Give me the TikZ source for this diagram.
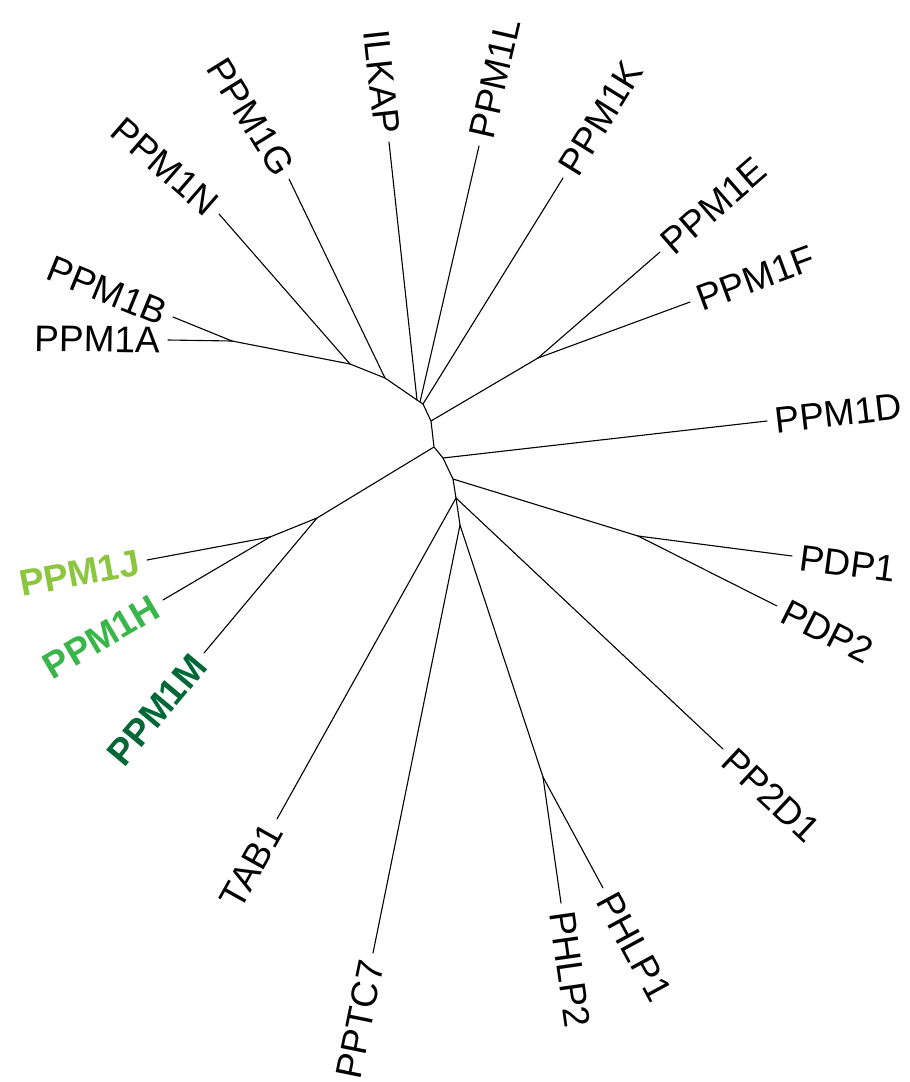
\documentclass[tikz,border=0pt]{standalone}
\usepackage{fontspec}
\setmainfont{Liberation Sans}
\usetikzlibrary{calc}
\definecolor{gJ}{RGB}{140,198,63}
\definecolor{gH}{RGB}{57,181,74}
\definecolor{gM}{RGB}{0,104,55}
\tikzset{
  branch/.style={draw=black, line width=1.1pt, line cap=round, line join=round},
  lab/.style={font=\fontsize{37}{42}\selectfont, inner sep=0pt, text height=26.5pt, text depth=0pt},
  labR/.style={rotate=#1, anchor=west},
  labL/.style={rotate=#1-180, anchor=east},
  hl/.style={text=#1, font=\fontsize{37}{42}\selectfont\bfseries},
}
% #1 parent, #2 name, #3 tip coordinate, #4 text, #5 side R/L, #6 extra style
\newcommand{\leafnode}[6]{%
  \coordinate (#2) at #3;
  \draw[branch] (#1) -- (#2);
  \path let \p1=($(#2)-(#1)$), \n1={atan2(\y1,\x1)} in
    ($(#2)!-8pt!(#1)$) node[lab, lab#5=\n1, #6] (#2-l) {#4};
}
\begin{document}
\begin{tikzpicture}[x=1pt, y=-1pt]
\useasboundingbox (0,0) rectangle (910,1082);
% internal nodes
\coordinate (n1) at (232,341);
\coordinate (n2) at (350,364);
\coordinate (n3) at (385,378);
\coordinate (n4) at (417,400);
\coordinate (n5) at (420,402);
\coordinate (n6) at (423,404);
\coordinate (n7) at (431,421);
\coordinate (n8) at (434,447);
\coordinate (n9) at (443,458);
\coordinate (n10) at (453,479);
\coordinate (n11) at (456,498);
\coordinate (n12) at (460,525);
\coordinate (nPH) at (543,777);
\coordinate (nEF) at (538,358);
\coordinate (nPD) at (638,536);
\coordinate (n13) at (317,518);
\coordinate (n14) at (270,537);
% backbone
\draw[branch] (n1) -- (n2) -- (n3) -- (n4) -- (n5) -- (n6) -- (n7) -- (n8) -- (n9) -- (n10) -- (n11) -- (n12) -- (nPH);
\draw[branch] (n7) -- (nEF);
\draw[branch] (n10) -- (nPD);
\draw[branch] (n8) -- (n13) -- (n14);
% leaves
\leafnode{n1}{PPM1A}{(168,340)}{PPM1A}{L}{}
\leafnode{n1}{PPM1B}{(173,317)}{PPM1B}{L}{}
\leafnode{n2}{PPM1N}{(219,214)}{PPM1N}{L}{rotate=8}
\leafnode{n3}{PPM1G}{(289,179)}{PPM1G}{L}{rotate=6}
\leafnode{n4}{ILKAP}{(389,142)}{ILKAP}{L}{}
\leafnode{n5}{PPM1L}{(479,146)}{PPM1L}{R}{}
\leafnode{n6}{PPM1K}{(563,178)}{PPM1K}{R}{}
\leafnode{nEF}{PPM1E}{(660,252)}{PPM1E}{R}{}
\leafnode{nEF}{PPM1F}{(690,302)}{PPM1F}{R}{}
\leafnode{n9}{PPM1D}{(767,421)}{PPM1D}{R}{}
\leafnode{nPD}{PDP1}{(792,556)}{PDP1}{R}{}
\leafnode{nPD}{PDP2}{(777,606)}{PDP2}{R}{}
\leafnode{n11}{PP2D1}{(723,749)}{PP2D1}{R}{}
\leafnode{nPH}{PHLP1}{(603,888)}{PHLP1}{R}{}
\leafnode{nPH}{PHLP2}{(561,903)}{PHLP2}{R}{}
\leafnode{n12}{PPTC7}{(373,953)}{PPTC7}{L}{}
\leafnode{n11}{TAB1}{(277,819)}{TAB1}{L}{}
\leafnode{n13}{PPM1M}{(204,653)}{PPM1M}{L}{hl=gM}
\leafnode{n14}{PPM1H}{(163,600)}{PPM1H}{L}{hl=gH}
\leafnode{n14}{PPM1J}{(147,560)}{PPM1J}{L}{hl=gJ}
\end{tikzpicture}
\end{document}
